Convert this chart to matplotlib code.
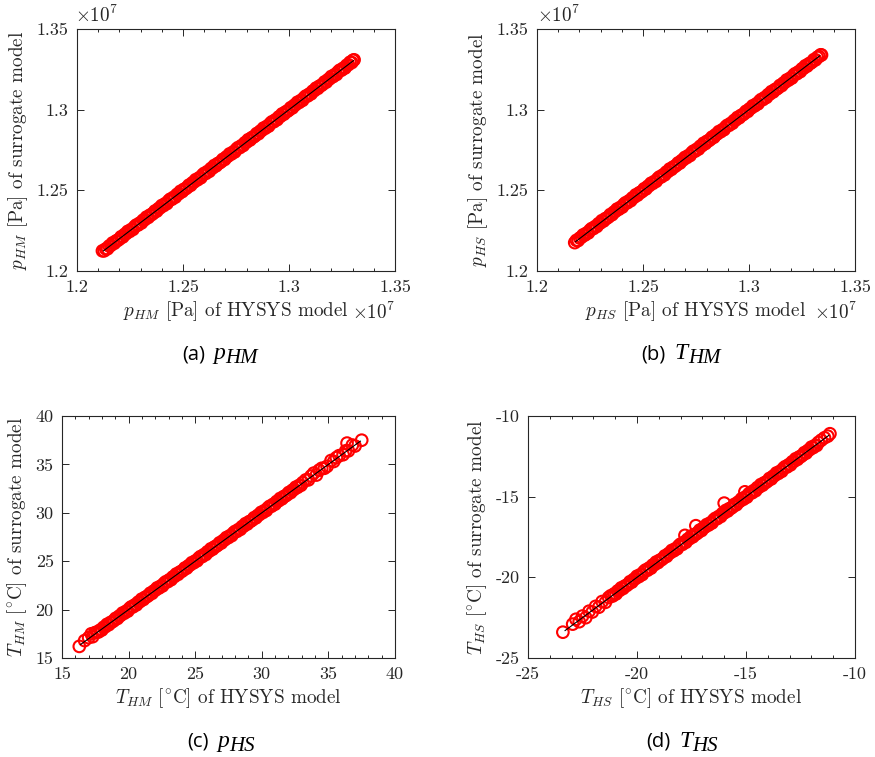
import matplotlib
matplotlib.use("Agg")
import matplotlib.pyplot as plt
from matplotlib.ticker import FixedLocator, MultipleLocator

plt.rcParams['axes.unicode_minus'] = False

# ---------------- data (pressures in units of 1e7 Pa) ----------------
a_hysys = [
    1.2120, 1.2128, 1.2136, 1.2144, 1.2152, 1.2160, 1.2168, 1.2176, 1.2184, 1.2192,
    1.2200, 1.2208, 1.2216, 1.2224, 1.2232, 1.2240, 1.2248, 1.2256, 1.2264, 1.2272,
    1.2280, 1.2288, 1.2296, 1.2304, 1.2312, 1.2320, 1.2328, 1.2336, 1.2344, 1.2352,
    1.2360, 1.2368, 1.2376, 1.2384, 1.2392, 1.2400, 1.2408, 1.2416, 1.2424, 1.2432,
    1.2440, 1.2448, 1.2456, 1.2464, 1.2472, 1.2480, 1.2488, 1.2496, 1.2504, 1.2512,
    1.2520, 1.2528, 1.2536, 1.2544, 1.2552, 1.2560, 1.2568, 1.2576, 1.2584, 1.2592,
    1.2600, 1.2608, 1.2616, 1.2624, 1.2632, 1.2640, 1.2648, 1.2656, 1.2664, 1.2672,
    1.2680, 1.2688, 1.2696, 1.2704, 1.2712, 1.2720, 1.2728, 1.2736, 1.2744, 1.2752,
    1.2760, 1.2768, 1.2776, 1.2784, 1.2792, 1.2800, 1.2808, 1.2816, 1.2824, 1.2832,
    1.2840, 1.2848, 1.2856, 1.2864, 1.2872, 1.2880, 1.2888, 1.2896, 1.2904, 1.2912,
    1.2920, 1.2928, 1.2936, 1.2944, 1.2952, 1.2960, 1.2968, 1.2976, 1.2984, 1.2992,
    1.3000, 1.3008, 1.3016, 1.3024, 1.3032, 1.3040, 1.3048, 1.3056, 1.3064, 1.3072,
    1.3080, 1.3088, 1.3096, 1.3104, 1.3112, 1.3120, 1.3128, 1.3136, 1.3144, 1.3152,
    1.3160, 1.3168, 1.3176, 1.3184, 1.3192, 1.3200, 1.3208, 1.3216, 1.3224, 1.3232,
    1.3240, 1.3248, 1.3256, 1.3264, 1.3272, 1.3280, 1.3288, 1.3296, 1.3302, 1.3307]
a_surr = [
    1.2125, 1.2125, 1.2137, 1.2138, 1.2155, 1.2159, 1.2174, 1.2172, 1.2186, 1.2190,
    1.2198, 1.2212, 1.2211, 1.2226, 1.2232, 1.2246, 1.2245, 1.2257, 1.2258, 1.2275,
    1.2285, 1.2285, 1.2297, 1.2298, 1.2315, 1.2319, 1.2334, 1.2332, 1.2346, 1.2350,
    1.2358, 1.2372, 1.2371, 1.2386, 1.2392, 1.2406, 1.2405, 1.2417, 1.2418, 1.2435,
    1.2445, 1.2445, 1.2457, 1.2458, 1.2475, 1.2479, 1.2494, 1.2492, 1.2506, 1.2510,
    1.2518, 1.2532, 1.2531, 1.2546, 1.2552, 1.2566, 1.2565, 1.2577, 1.2578, 1.2595,
    1.2605, 1.2605, 1.2617, 1.2618, 1.2635, 1.2639, 1.2654, 1.2652, 1.2666, 1.2670,
    1.2678, 1.2692, 1.2691, 1.2706, 1.2712, 1.2726, 1.2725, 1.2737, 1.2738, 1.2755,
    1.2765, 1.2765, 1.2777, 1.2778, 1.2795, 1.2799, 1.2814, 1.2812, 1.2826, 1.2830,
    1.2838, 1.2852, 1.2851, 1.2866, 1.2872, 1.2886, 1.2885, 1.2897, 1.2898, 1.2915,
    1.2925, 1.2925, 1.2937, 1.2938, 1.2955, 1.2959, 1.2974, 1.2972, 1.2986, 1.2990,
    1.2998, 1.3012, 1.3011, 1.3026, 1.3032, 1.3046, 1.3045, 1.3057, 1.3058, 1.3075,
    1.3085, 1.3085, 1.3097, 1.3098, 1.3115, 1.3119, 1.3134, 1.3132, 1.3146, 1.3150,
    1.3158, 1.3172, 1.3171, 1.3186, 1.3192, 1.3206, 1.3205, 1.3217, 1.3218, 1.3235,
    1.3245, 1.3245, 1.3257, 1.3258, 1.3275, 1.3279, 1.3294, 1.3292, 1.3306, 1.3309]
a_line = [1.2125, 1.3304]

b_hysys = [
    1.2178, 1.2186, 1.2194, 1.2202, 1.2210, 1.2218, 1.2226, 1.2234, 1.2242, 1.2250,
    1.2258, 1.2266, 1.2274, 1.2282, 1.2290, 1.2298, 1.2306, 1.2314, 1.2322, 1.2330,
    1.2338, 1.2346, 1.2354, 1.2362, 1.2370, 1.2378, 1.2386, 1.2394, 1.2402, 1.2410,
    1.2418, 1.2426, 1.2434, 1.2442, 1.2450, 1.2458, 1.2466, 1.2474, 1.2482, 1.2490,
    1.2498, 1.2506, 1.2514, 1.2522, 1.2530, 1.2538, 1.2546, 1.2554, 1.2562, 1.2570,
    1.2578, 1.2586, 1.2594, 1.2602, 1.2610, 1.2618, 1.2626, 1.2634, 1.2642, 1.2650,
    1.2658, 1.2666, 1.2674, 1.2682, 1.2690, 1.2698, 1.2706, 1.2714, 1.2722, 1.2730,
    1.2738, 1.2746, 1.2754, 1.2762, 1.2770, 1.2778, 1.2786, 1.2794, 1.2802, 1.2810,
    1.2818, 1.2826, 1.2834, 1.2842, 1.2850, 1.2858, 1.2866, 1.2874, 1.2882, 1.2890,
    1.2898, 1.2906, 1.2914, 1.2922, 1.2930, 1.2938, 1.2946, 1.2954, 1.2962, 1.2970,
    1.2978, 1.2986, 1.2994, 1.3002, 1.3010, 1.3018, 1.3026, 1.3034, 1.3042, 1.3050,
    1.3058, 1.3066, 1.3074, 1.3082, 1.3090, 1.3098, 1.3106, 1.3114, 1.3122, 1.3130,
    1.3138, 1.3146, 1.3154, 1.3162, 1.3170, 1.3178, 1.3186, 1.3194, 1.3202, 1.3210,
    1.3218, 1.3226, 1.3234, 1.3242, 1.3250, 1.3258, 1.3266, 1.3274, 1.3282, 1.3290,
    1.3298, 1.3306, 1.3314, 1.3322, 1.3330, 1.3338, 1.3342]
b_surr = [
    1.2176, 1.2190, 1.2189, 1.2204, 1.2210, 1.2224, 1.2223, 1.2235, 1.2236, 1.2253,
    1.2263, 1.2263, 1.2275, 1.2276, 1.2293, 1.2297, 1.2312, 1.2310, 1.2324, 1.2328,
    1.2336, 1.2350, 1.2349, 1.2364, 1.2370, 1.2384, 1.2383, 1.2395, 1.2396, 1.2413,
    1.2423, 1.2423, 1.2435, 1.2436, 1.2453, 1.2457, 1.2472, 1.2470, 1.2484, 1.2488,
    1.2496, 1.2510, 1.2509, 1.2524, 1.2530, 1.2544, 1.2543, 1.2555, 1.2556, 1.2573,
    1.2583, 1.2583, 1.2595, 1.2596, 1.2613, 1.2617, 1.2632, 1.2630, 1.2644, 1.2648,
    1.2656, 1.2670, 1.2669, 1.2684, 1.2690, 1.2704, 1.2703, 1.2715, 1.2716, 1.2733,
    1.2743, 1.2743, 1.2755, 1.2756, 1.2773, 1.2777, 1.2792, 1.2790, 1.2804, 1.2808,
    1.2816, 1.2830, 1.2829, 1.2844, 1.2850, 1.2864, 1.2863, 1.2875, 1.2876, 1.2893,
    1.2903, 1.2903, 1.2915, 1.2916, 1.2933, 1.2937, 1.2952, 1.2950, 1.2964, 1.2968,
    1.2976, 1.2990, 1.2989, 1.3004, 1.3010, 1.3024, 1.3023, 1.3035, 1.3036, 1.3053,
    1.3063, 1.3063, 1.3075, 1.3076, 1.3093, 1.3097, 1.3112, 1.3110, 1.3124, 1.3128,
    1.3136, 1.3150, 1.3149, 1.3164, 1.3170, 1.3184, 1.3183, 1.3195, 1.3196, 1.3213,
    1.3223, 1.3223, 1.3235, 1.3236, 1.3253, 1.3257, 1.3272, 1.3270, 1.3284, 1.3288,
    1.3296, 1.3310, 1.3309, 1.3324, 1.3330, 1.3340, 1.3339]
b_line = [1.2182, 1.3334]

c_hysys = [
    16.30, 16.70, 17.00, 17.20, 17.30, 17.45,
    17.60, 17.73, 17.86, 17.99, 18.12, 18.25, 18.38, 18.51, 18.64, 18.77,
    18.90, 19.03, 19.16, 19.29, 19.42, 19.55, 19.68, 19.81, 19.94, 20.07,
    20.20, 20.33, 20.46, 20.59, 20.72, 20.85, 20.98, 21.11, 21.24, 21.37,
    21.50, 21.63, 21.76, 21.89, 22.02, 22.15, 22.28, 22.41, 22.54, 22.67,
    22.80, 22.93, 23.06, 23.19, 23.32, 23.45, 23.58, 23.71, 23.84, 23.97,
    24.10, 24.23, 24.36, 24.49, 24.62, 24.75, 24.88, 25.01, 25.14, 25.27,
    25.40, 25.53, 25.66, 25.79, 25.92, 26.05, 26.18, 26.31, 26.44, 26.57,
    26.70, 26.83, 26.96, 27.09, 27.22, 27.35, 27.48, 27.61, 27.74, 27.87,
    28.00, 28.13, 28.26, 28.39, 28.52, 28.65, 28.78, 28.91, 29.04, 29.17,
    29.30, 29.43, 29.56, 29.69, 29.82, 29.95, 30.08, 30.21, 30.34, 30.47,
    30.60, 30.73, 30.86, 30.99, 31.12, 31.25, 31.38, 31.51, 31.64, 31.77,
    31.90, 32.03, 32.16, 32.29, 32.42, 32.55, 32.68, 32.81, 32.94, 33.07,
    33.30, 33.50, 33.70, 33.90, 34.10, 34.30, 34.50, 34.70, 34.90, 35.20,
    35.40, 35.60, 35.80, 36.10, 36.30, 36.40, 36.50, 36.80, 37.00, 37.50]
c_surr = [
    16.20, 16.80, 17.10, 17.50, 17.20, 17.60,
    17.68, 17.68, 17.88, 17.89, 18.17, 18.23, 18.48, 18.44, 18.67, 18.74,
    18.87, 19.10, 19.08, 19.32, 19.42, 19.65, 19.63, 19.83, 19.84, 20.12,
    20.28, 20.28, 20.48, 20.49, 20.77, 20.83, 21.08, 21.04, 21.27, 21.34,
    21.47, 21.70, 21.68, 21.92, 22.02, 22.25, 22.23, 22.43, 22.44, 22.72,
    22.88, 22.88, 23.08, 23.09, 23.37, 23.43, 23.68, 23.64, 23.87, 23.94,
    24.07, 24.30, 24.28, 24.52, 24.62, 24.85, 24.83, 25.03, 25.04, 25.32,
    25.48, 25.48, 25.68, 25.69, 25.97, 26.03, 26.28, 26.24, 26.47, 26.54,
    26.67, 26.90, 26.88, 27.12, 27.22, 27.45, 27.43, 27.63, 27.64, 27.92,
    28.08, 28.08, 28.28, 28.29, 28.57, 28.63, 28.88, 28.84, 29.07, 29.14,
    29.27, 29.50, 29.48, 29.72, 29.82, 30.05, 30.03, 30.23, 30.24, 30.52,
    30.68, 30.68, 30.88, 30.89, 31.17, 31.23, 31.48, 31.44, 31.67, 31.74,
    31.87, 32.10, 32.08, 32.32, 32.42, 32.65, 32.63, 32.83, 32.84, 33.12,
    33.40, 33.40, 33.80, 34.10, 33.90, 34.40, 34.60, 34.60, 34.80, 35.40,
    35.30, 35.70, 35.90, 36.00, 36.40, 37.20, 36.40, 37.00, 36.90, 37.50]
c_line = [16.4, 37.4]

d_hysys = [
    -23.40, -22.95, -22.80, -22.65, -22.50, -22.35, -22.20, -22.05, -21.90, -21.75,
    -21.60, -21.45, -21.30,
    -21.20, -21.12, -21.04, -20.96, -20.88, -20.80, -20.72, -20.64, -20.56, -20.48,
    -20.40, -20.32, -20.24, -20.16, -20.08, -20.00, -19.92, -19.84, -19.76, -19.68,
    -19.60, -19.52, -19.44, -19.36, -19.28, -19.20, -19.12, -19.04, -18.96, -18.88,
    -18.80, -18.72, -18.64, -18.56, -18.48, -18.40, -18.32, -18.24, -18.16, -18.08,
    -18.00, -17.92, -17.84, -17.76, -17.68, -17.60, -17.52, -17.44, -17.36, -17.28,
    -17.20, -17.12, -17.04, -16.96, -16.88, -16.80, -16.72, -16.64, -16.56, -16.48,
    -16.40, -16.32, -16.24, -16.16, -16.08, -16.00, -15.92, -15.84, -15.76, -15.68,
    -15.60, -15.52, -15.44, -15.36, -15.28, -15.20, -15.12, -15.04, -14.96, -14.88,
    -14.80, -14.72, -14.64, -14.56, -14.48, -14.40, -14.32, -14.24, -14.16, -14.08,
    -14.00, -13.92, -13.84, -13.76, -13.68, -13.60, -13.52, -13.44, -13.36, -13.28,
    -13.20, -13.12, -13.04, -12.96, -12.88, -12.80, -12.72, -12.64, -12.56, -12.48,
    -12.40, -12.32, -12.24, -12.16, -12.08, -12.00, -11.92, -11.84, -11.76, -11.68,
    -17.80, -17.30, -16.00, -15.05,
    -11.55, -11.40, -11.25, -11.15]
d_surr = [
    -23.40, -22.90, -22.60, -22.75, -22.40, -22.50, -22.10, -22.15, -21.80, -21.85,
    -21.50, -21.55, -21.25,
    -21.14, -21.16, -21.02, -21.03, -20.84, -20.81, -20.65, -20.69, -20.54, -20.51,
    -20.42, -20.27, -20.30, -20.14, -20.08, -19.93, -19.96, -19.83, -19.83, -19.64,
    -19.54, -19.56, -19.42, -19.43, -19.24, -19.21, -19.05, -19.09, -18.94, -18.91,
    -18.82, -18.67, -18.70, -18.54, -18.48, -18.33, -18.36, -18.23, -18.23, -18.04,
    -17.94, -17.96, -17.82, -17.83, -17.64, -17.61, -17.45, -17.49, -17.34, -17.31,
    -17.22, -17.07, -17.10, -16.94, -16.88, -16.73, -16.76, -16.63, -16.63, -16.44,
    -16.34, -16.36, -16.22, -16.23, -16.04, -16.01, -15.85, -15.89, -15.74, -15.71,
    -15.62, -15.47, -15.50, -15.34, -15.28, -15.13, -15.16, -15.03, -15.03, -14.84,
    -14.74, -14.76, -14.62, -14.63, -14.44, -14.41, -14.25, -14.29, -14.14, -14.11,
    -14.02, -13.87, -13.90, -13.74, -13.68, -13.53, -13.56, -13.43, -13.43, -13.24,
    -13.14, -13.16, -13.02, -13.03, -12.84, -12.81, -12.65, -12.69, -12.54, -12.51,
    -12.42, -12.27, -12.30, -12.14, -12.08, -11.93, -11.96, -11.83, -11.83, -11.64,
    -17.40, -16.80, -15.40, -14.70,
    -11.50, -11.35, -11.25, -11.10]
d_line = [-23.3, -11.2]

# ---------------- figure ----------------
W, H = 875, 757
fig = plt.figure(figsize=(W / 100, H / 100), dpi=100)

TXT = '#262626'
FS_TICK = 13
FS_LAB = 13.8
CMR = 'cmr10'


def px_axes(l, t, r, b):
    return fig.add_axes([l / W, 1 - b / H, (r - l) / W, (b - t) / H])


def style(ax, xlim, ylim, xticks, yticks, xlabels, ylabels, xminor):
    ax.set_xlim(xlim)
    ax.set_ylim(ylim)
    ax.xaxis.set_major_locator(FixedLocator(xticks))
    ax.yaxis.set_major_locator(FixedLocator(yticks))
    ax.set_xticklabels(xlabels, family=CMR, fontsize=FS_TICK, color=TXT)
    ax.set_yticklabels(ylabels, family=CMR, fontsize=FS_TICK, color=TXT)
    ax.xaxis.set_minor_locator(MultipleLocator(xminor))
    ax.tick_params(which='both', direction='in', top=True, right=True, color=TXT, width=0.7)
    ax.tick_params(which='major', length=5, pad=6)
    ax.tick_params(which='minor', length=2.5)
    for s in ax.spines.values():
        s.set_color(TXT)
        s.set_linewidth(0.8)


def draw(ax, x, y, line):
    ax.scatter(x, y, s=70, facecolors='none', edgecolors='#ff0000', linewidths=1.5, zorder=2)
    ax.plot(line, line, color='black', lw=0.8, zorder=3)


def label(ax, xl, yl):
    ax.set_xlabel(xl, family=CMR, fontsize=FS_LAB, color=TXT, math_fontfamily='cm', labelpad=3)
    ax.set_ylabel(yl, family=CMR, fontsize=FS_LAB, color=TXT, math_fontfamily='cm', labelpad=5)


# (a)
axa = px_axes(77, 29, 395, 271)
draw(axa, a_hysys, a_surr, a_line)
pt = [1.2, 1.25, 1.3, 1.35]
pl = ['1.2', '1.25', '1.3', '1.35']
style(axa, (1.2, 1.35), (1.2, 1.35), pt, pt, pl, pl, 0.01)
label(axa, r'$p_{HM}$ [Pa] of HYSYS model', r'$p_{HM}$ [Pa] of surrogate model')

# (b)
axb = px_axes(537, 29, 855, 271)
draw(axb, b_hysys, b_surr, b_line)
style(axb, (1.2, 1.35), (1.2, 1.35), pt, pt, pl, pl, 0.01)
label(axb, r'$p_{HS}$ [Pa] of HYSYS model', r'$p_{HS}$ [Pa] of surrogate model')

# (c)
axc = px_axes(62, 416, 395, 658)
draw(axc, c_hysys, c_surr, c_line)
ct = [15, 20, 25, 30, 35, 40]
cl = [str(v) for v in ct]
style(axc, (15, 40), (15, 40), ct, ct, cl, cl, 1)
label(axc, r'$T_{HM}$ $[^{\circ}\mathrm{C}]$ of HYSYS model',
      r'$T_{HM}$ $[^{\circ}\mathrm{C}]$ of surrogate model')

# (d)
axd = px_axes(528, 416, 855, 658)
draw(axd, d_hysys, d_surr, d_line)
dt = [-25, -20, -15, -10]
dl = [str(v) for v in dt]
style(axd, (-25, -10), (-25, -10), dt, dt, dl, dl, 1)
label(axd, r'$T_{HS}$ $[^{\circ}\mathrm{C}]$ of HYSYS model',
      r'$T_{HS}$ $[^{\circ}\mathrm{C}]$ of surrogate model')

# exponent labels (x10^7)
for xt, xb in [(97, 374), (559, 836)]:
    fig.text(xt / W, 1 - 15 / H, r'$\times10^{7}$', ha='center', va='center',
             fontsize=FS_LAB, color=TXT, math_fontfamily='cm')
    fig.text(xb / W, 1 - 312 / H, r'$\times10^{7}$', ha='center', va='center',
             fontsize=FS_LAB, color=TXT, math_fontfamily='cm')

# captions: "(x)" + italic symbol + italic subscript
renderer = fig.canvas.get_renderer()
captions = [(220, 359, '(a)', 'p', 'HM'), (681, 359, '(b)', 'T', 'HM'),
            (221, 747, '(c)', 'p', 'HS'), (682, 747, '(d)', 'T', 'HS')]
for cx, base, tag, sym, sub in captions:
    t1 = fig.text(0, 1 - base / H, tag, ha='left', va='baseline', fontsize=14.5,
                  family='Open Sans', color='black')
    t2 = fig.text(0, 1 - base / H, sym, ha='left', va='baseline', fontsize=17,
                  family='Liberation Serif', style='italic', color='black')
    t3 = fig.text(0, 1 - (base + 4) / H, sub, ha='left', va='baseline', fontsize=15,
                  family='Liberation Serif', style='italic', color='black')
    w1 = t1.get_window_extent(renderer).width
    w2 = t2.get_window_extent(renderer).width
    w3 = t3.get_window_extent(renderer).width
    gap = 9
    total = w1 + gap + w2 + w3
    x0 = cx - total / 2
    t1.set_x(x0 / W)
    t2.set_x((x0 + w1 + gap) / W)
    t3.set_x((x0 + w1 + gap + w2) / W)

fig.savefig('out.png', dpi=100)
